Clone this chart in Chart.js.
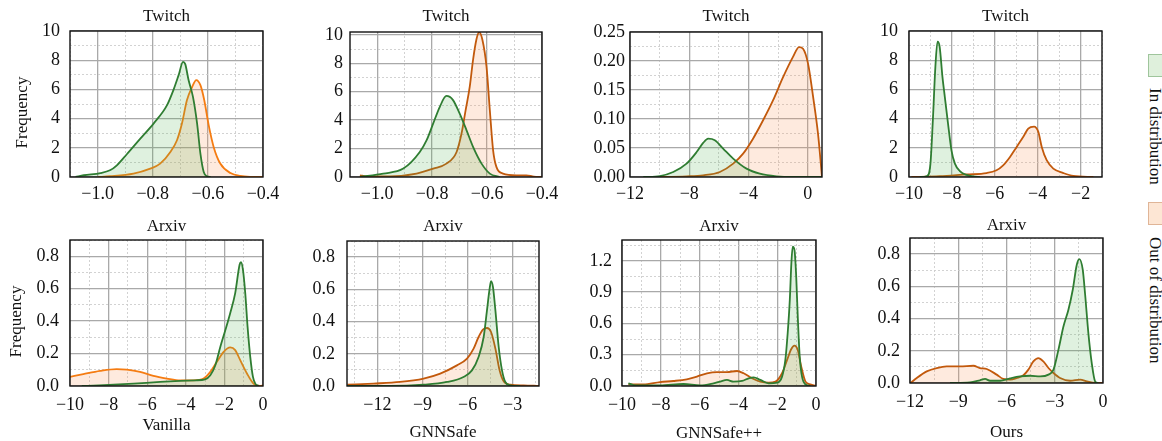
<!DOCTYPE html>
<html>
<head>
<meta charset="utf-8">
<script src="https://cdn.jsdelivr.net/npm/chart.js@4.4.1/dist/chart.umd.min.js"></script>
<style>
  body { margin: 0; width: 1162px; height: 441px; overflow: hidden; background: #fff; position: relative; font-family: "Liberation Serif", serif; }
  canvas { position: absolute; }
  .key { position: absolute; left: 1148px; width: 18px; height: 23px; box-sizing: border-box; }
  .key-text { position: absolute; left: 1145px; writing-mode: vertical-rl; font-size: 17px; line-height: 20px; color: #111; white-space: nowrap; }
</style>
</head>
<body>
<div class="key" id="key-in" style="top:54px; background:#dff0dc; border:1px solid #9fc59c;"></div>
<div class="key-text" id="label-in" style="top:88px;"></div>
<div class="key" id="key-ood" style="top:202px; background:#fde6d4; border:1px solid #e0b597;"></div>
<div class="key-text" id="label-ood" style="top:237px;"></div>
<script>
// ---- data ----
const seriesNames = ['In distribution', 'Out of distribution'];
const datasetNames = ['Twitch', 'Twitch', 'Twitch', 'Twitch', 'Arxiv', 'Arxiv', 'Arxiv', 'Arxiv'];
const methodNames = ['', '', '', '', 'Vanilla', 'GNNSafe', 'GNNSafe++', 'Ours'];
const yAxisNames = ['Frequency', '', '', '', 'Frequency', '', '', ''];

// Twitch / Vanilla
const twVanInX = [-1.08, -1.05, -0.99, -0.955, -0.93, -0.894, -0.845, -0.797, -0.748, -0.724, -0.706, -0.69, -0.682, -0.67, -0.654, -0.639, -0.627, -0.615, -0.603, -0.59];
const twVanInY = [0, 0.12, 0.27, 0.46, 0.8, 1.56, 2.63, 3.66, 4.92, 6.0, 6.98, 7.89, 7.73, 6.64, 5.49, 3.66, 1.6, 0.34, 0.05, 0];
const twVanOodX = [-1.0, -0.955, -0.87, -0.809, -0.773, -0.736, -0.712, -0.694, -0.676, -0.658, -0.642, -0.627, -0.613, -0.597, -0.579, -0.555, -0.518, -0.482, -0.44, -0.4];
const twVanOodY = [0, 0.05, 0.23, 0.57, 0.92, 1.72, 2.52, 3.66, 5.26, 6.13, 6.64, 6.29, 5.26, 3.55, 2.06, 0.92, 0.27, 0.07, 0.01, 0];

// Twitch / GNNSafe
const twSafeInX = [-1.063, -0.978, -0.905, -0.845, -0.82, -0.796, -0.772, -0.748, -0.724, -0.70, -0.675, -0.651, -0.62, -0.59, -0.554];
const twSafeInY = [0, 0.24, 0.59, 1.76, 2.59, 3.77, 4.94, 5.7, 5.41, 4.47, 3.30, 2.12, 0.94, 0.24, 0];
const twSafeOodX = [-1.063, -1.04, -0.954, -0.857, -0.796, -0.748, -0.711, -0.693, -0.678, -0.663, -0.651, -0.639, -0.629, -0.617, -0.602, -0.59, -0.578, -0.566, -0.542, -0.493, -0.457, -0.43, -0.40];
const twSafeOodY = [0.12, 0.05, 0.05, 0.24, 0.59, 0.94, 1.76, 3.06, 4.71, 6.35, 8.24, 9.65, 10.19, 9.65, 7.76, 4.71, 1.88, 0.71, 0.24, 0.12, 0.12, 0.03, 0];

// Twitch / GNNSafe++
const twPlusInX = [-11.1, -9.98, -9.08, -8.18, -7.5, -7.06, -6.72, -6.27, -5.71, -5.03, -4.13, -3.23, -2.11, -0.99, 0.97];
const twPlusInY = [0, 0.0017, 0.0086, 0.023, 0.043, 0.0587, 0.066, 0.0633, 0.049, 0.0317, 0.0144, 0.0058, 0.0012, 0, 0];
const twPlusOodX = [-10.43, -8.18, -7.06, -5.93, -5.03, -4.36, -3.69, -3.01, -2.34, -1.66, -0.99, -0.58, -0.31, 0.03, 0.37, 0.70, 0.97];
const twPlusOodY = [0, 0.0012, 0.0029, 0.0086, 0.023, 0.0402, 0.066, 0.0978, 0.132, 0.172, 0.207, 0.224, 0.221, 0.195, 0.138, 0.0748, 0];

// Twitch / Ours
const twOursInX = [-9.5, -9.16, -9.0, -8.88, -8.77, -8.67, -8.57, -8.44, -8.33, -8.18, -8.02, -7.86, -7.63, -7.32, -6.7];
const twOursInY = [0, 0.07, 0.92, 4.12, 7.55, 9.27, 8.92, 6.86, 5.49, 3.66, 1.83, 0.92, 0.41, 0.14, 0];
const twOursOodX = [-9.89, -8.57, -7.32, -6.38, -5.92, -5.61, -5.29, -4.98, -4.67, -4.44, -4.17, -3.97, -3.81, -3.58, -3.27, -2.80, -2.34, -1.4];
const twOursOodY = [0, 0.05, 0.18, 0.27, 0.46, 0.80, 1.37, 2.06, 2.75, 3.32, 3.45, 3.09, 2.06, 1.15, 0.57, 0.27, 0.07, 0];

// Arxiv / Vanilla
const axVanInX = [-9.39, -8.5, -6.71, -5.33, -4.3, -3.5, -3.0, -2.73, -2.47, -2.21, -1.95, -1.70, -1.44, -1.21, -1.14, -1.04, -0.92, -0.80, -0.66, -0.52, -0.40, -0.23];
const axVanInY = [0, 0.004, 0.015, 0.025, 0.031, 0.035, 0.041, 0.066, 0.128, 0.242, 0.345, 0.449, 0.573, 0.749, 0.763, 0.717, 0.573, 0.366, 0.180, 0.056, 0.015, 0];
const axVanOodX = [-10, -9.31, -8.44, -7.58, -7.06, -6.37, -5.68, -4.98, -4.29, -3.60, -3.08, -2.73, -2.39, -2.04, -1.70, -1.44, -1.18, -0.83, -0.49, -0.14, 0];
const axVanOodY = [0.056, 0.073, 0.093, 0.104, 0.101, 0.087, 0.062, 0.046, 0.035, 0.035, 0.046, 0.087, 0.149, 0.211, 0.238, 0.221, 0.159, 0.077, 0.015, 0, 0.004];

// Arxiv / GNNSafe
const axSafeInX = [-14.0, -11.15, -8.93, -7.37, -6.27, -5.71, -5.27, -4.93, -4.71, -4.55, -4.44, -4.31, -4.15, -3.93, -3.71, -3.49, -3.15, -2.5];
const axSafeInY = [0, 0, 0.008, 0.025, 0.056, 0.097, 0.18, 0.304, 0.469, 0.593, 0.651, 0.614, 0.469, 0.242, 0.097, 0.025, 0.004, 0];
const axSafeOodX = [-14.0, -12.26, -10.49, -8.93, -7.82, -6.71, -6.04, -5.6, -5.27, -4.98, -4.71, -4.44, -4.15, -3.87, -3.6, -3.15, -2.27, -1.25];
const axSafeOodY = [0.008, 0.015, 0.025, 0.046, 0.077, 0.128, 0.17, 0.232, 0.304, 0.35, 0.36, 0.335, 0.232, 0.097, 0.029, 0.008, 0.004, 0];

// Arxiv / GNNSafe++
const axPlusInX = [-9.67, -9.3, -8.04, -6.83, -5.97, -5.28, -4.94, -4.59, -4.25, -3.81, -3.47, -3.21, -2.87, -2.44, -2.0, -1.75, -1.58, -1.46, -1.35, -1.27, -1.20, -1.11, -1.02, -0.94, -0.84, -0.72, -0.54, -0.28];
const axPlusInY = [0.026, 0.006, 0.006, 0.019, 0.006, 0.026, 0.042, 0.058, 0.042, 0.048, 0.074, 0.083, 0.058, 0.026, 0.032, 0.09, 0.25, 0.506, 0.826, 1.177, 1.337, 1.305, 1.049, 0.666, 0.282, 0.09, 0.016, 0];
const axPlusOodX = [-9.67, -8.90, -8.04, -7.35, -6.66, -6.14, -5.62, -5.11, -4.59, -4.07, -3.73, -3.30, -2.87, -2.44, -2.09, -1.75, -1.49, -1.28, -1.11, -0.94, -0.76, -0.54, -0.28, -0.03];
const axPlusOodY = [0.016, 0.016, 0.038, 0.048, 0.064, 0.09, 0.122, 0.134, 0.134, 0.144, 0.122, 0.074, 0.042, 0.032, 0.042, 0.122, 0.25, 0.352, 0.387, 0.345, 0.186, 0.042, 0.016, 0.003];

// Arxiv / Ours
const axOursInX = [-9.51, -8.27, -7.65, -7.33, -7.02, -6.40, -5.78, -5.16, -4.53, -3.91, -3.39, -3.08, -2.77, -2.46, -2.15, -1.88, -1.63, -1.47, -1.26, -1.11, -0.91, -0.70, -0.49, -0.29];
const axOursInY = [0, 0.004, 0.017, 0.025, 0.014, 0.014, 0.029, 0.041, 0.045, 0.041, 0.052, 0.083, 0.207, 0.351, 0.455, 0.579, 0.734, 0.769, 0.703, 0.548, 0.310, 0.124, 0.010, 0];
const axOursOodX = [-11.96, -11.58, -10.96, -10.34, -9.72, -8.89, -8.06, -7.65, -7.23, -6.61, -6.20, -5.78, -5.36, -4.95, -4.64, -4.33, -4.02, -3.71, -3.39, -3.08, -2.67, -2.04, -1.42, -1.0, -0.49, 0];
const axOursOodY = [0, 0.031, 0.072, 0.093, 0.103, 0.103, 0.107, 0.093, 0.087, 0.052, 0.025, 0.021, 0.031, 0.048, 0.083, 0.134, 0.155, 0.134, 0.093, 0.062, 0.031, 0.014, 0.021, 0.010, 0, 0];

// axis ranges and labelled ticks
const xRanges = [[-1.1, -0.4], [-1.099, -0.4], [-12, 0.97], [-10, -1], [-10, 0], [-14.02, -1.25], [-10, 0], [-12, 0]];
const yMaxes = [10, 10.2, 0.25, 10, 0.9, 0.9, 1.4, 0.9];
const xTickVals = [
  [-1.0, -0.8, -0.6, -0.4], [-1.0, -0.8, -0.6, -0.4], [-12, -8, -4, 0], [-10, -8, -6, -4, -2],
  [-10, -8, -6, -4, -2, 0], [-12, -9, -6, -3], [-10, -8, -6, -4, -2, 0], [-12, -9, -6, -3, 0]
];
const yTickVals = [
  [0, 2, 4, 6, 8, 10], [0, 2, 4, 6, 8, 10], [0, 0.05, 0.10, 0.15, 0.20, 0.25], [0, 2, 4, 6, 8, 10],
  [0, 0.2, 0.4, 0.6, 0.8], [0, 0.2, 0.4, 0.6, 0.8], [0, 0.3, 0.6, 0.9, 1.2], [0, 0.2, 0.4, 0.6, 0.8]
];
const xDecimals = [1, 1, 0, 0, 0, 0, 0, 0];
const yDecimals = [0, 0, 2, 0, 1, 1, 1, 1];

const inXs = [twVanInX, twSafeInX, twPlusInX, twOursInX, axVanInX, axSafeInX, axPlusInX, axOursInX];
const inYs = [twVanInY, twSafeInY, twPlusInY, twOursInY, axVanInY, axSafeInY, axPlusInY, axOursInY];
const oodXs = [twVanOodX, twSafeOodX, twPlusOodX, twOursOodX, axVanOodX, axSafeOodX, axPlusOodX, axOursOodX];
const oodYs = [twVanOodY, twSafeOodY, twPlusOodY, twOursOodY, axVanOodY, axSafeOodY, axPlusOodY, axOursOodY];

// ---- layout / style ----
const plotBoxes = [ // plot area in page px: left, top, right, bottom
  [70, 31, 263, 177], [350, 32, 542, 177], [630, 32, 822, 177], [909, 31, 1102, 177],
  [70, 240, 263, 386], [347, 241, 539, 386], [622, 240, 816, 386], [910, 238, 1103, 383]
];
const axisWidths = [58, 50, 50, 50, 64, 54, 54, 54];
const titleCenters = [16, 16, 16, 16, 226, 226, 226, 225];
const xTitleCenters = [0, 0, 0, 0, 426, 433, 434, 433];
const yTickPads = [10, 7, 5, 11, 11, 12, 10, 10];
const xTickPads = [6, 6, 6, 6, 8, 8, 8, 8];
const oodLine = ['#f57c12', '#c2590c', '#c2590c', '#c2590c', '#f57c12', '#c2590c', '#c2590c', '#c2590c'];

const FONT = 'Liberation Serif';
const TEXT = '#111';
const GREEN = '#2f7d32';
const GREEN_FILL = 'rgba(76, 175, 80, 0.18)';
const ORANGE_FILL = 'rgba(250, 150, 90, 0.2)';
const LH = 17 * 1.2;

document.getElementById('label-in').textContent = seriesNames[0];
document.getElementById('label-ood').textContent = seriesNames[1];

function fmt(v, dec) {
  const s = Math.abs(v).toFixed(dec);
  return v < -1e-9 ? '\u2212' + s : s;
}

// majors plus half-step minors inside [min, max]
function gridValues(majors, min, max) {
  const half = (majors[1] - majors[0]) / 2;
  const k0 = Math.ceil((min - majors[0]) / half - 1e-6);
  const k1 = Math.floor((max - majors[0]) / half + 1e-6);
  const vals = [];
  for (let k = k0; k <= k1; k++) vals.push(+(majors[0] + k * half).toFixed(6));
  return vals;
}

function isMajor(majors, v) {
  const half = (majors[1] - majors[0]) / 2;
  const k = Math.round((v - majors[0]) / half);
  return ((k % 2) + 2) % 2 === 0;
}

function axisOptions(majors, min, max, dec, pad, name) {
  return {
    type: 'linear',
    min: min,
    max: max,
    afterBuildTicks: s => { s.ticks = gridValues(majors, min, max).map(v => ({ value: v })); },
    ticks: {
      autoSkip: false,
      maxRotation: 0,
      padding: pad,
      color: TEXT,
      font: { family: FONT, size: 18 },
      callback: v => isMajor(majors, v) ? fmt(v, dec) : ''
    },
    grid: {
      drawTicks: false,
      color: c => (c.tick && !isMajor(majors, c.tick.value)) ? '#cdcdcd' : '#a9a9a9',
      lineWidth: c => (c.tick && !isMajor(majors, c.tick.value)) ? 0.9 : 1.3
    },
    border: {
      display: false,
      dash: c => (c.tick && !isMajor(majors, c.tick.value)) ? [2, 2] : []
    },
    title: {
      display: !!name,
      text: name,
      color: TEXT,
      padding: 0,
      font: { family: FONT, size: 17 }
    }
  };
}

const framePlugin = {
  id: 'frame',
  afterDatasetsDraw(chart) {
    const { ctx, chartArea: a } = chart;
    ctx.save();
    ctx.strokeStyle = '#111';
    ctx.lineWidth = 1.4;
    ctx.strokeRect(a.left, a.top, a.right - a.left, a.bottom - a.top);
    ctx.restore();
  }
};

function points(xs, ys) {
  return xs.map((x, i) => ({ x: x, y: ys[i] }));
}

for (let i = 0; i < 8; i++) {
  const [L, T, R, B] = plotBoxes[i];
  const yW = axisWidths[i];
  const top = Math.round(titleCenters[i] - LH / 2);
  const titleH = T - top;
  const xH = xTitleCenters[i] ? Math.round(xTitleCenters[i] + LH / 2 - B) : 32;
  const rPad = 26;

  const canvas = document.createElement('canvas');
  canvas.width = yW + (R - L) + rPad;
  canvas.height = (B - T) + titleH + xH;
  canvas.style.left = (L - yW) + 'px';
  canvas.style.top = top + 'px';
  document.body.appendChild(canvas);

  const xOpts = axisOptions(xTickVals[i], xRanges[i][0], xRanges[i][1], xDecimals[i], xTickPads[i], methodNames[i]);
  xOpts.afterFit = s => { s.height = xH; s.paddingLeft = 0; s.paddingRight = 0; };
  const yName = yAxisNames[i] ? yAxisNames[i] + '\u2003' : '';
  const yOpts = axisOptions(yTickVals[i], 0, yMaxes[i], yDecimals[i], yTickPads[i], yName);
  yOpts.afterFit = s => { s.width = yW; s.paddingTop = 0; s.paddingBottom = 0; };

  new Chart(canvas, {
    type: 'line',
    data: {
      datasets: [
        {
          label: seriesNames[0],
          data: points(inXs[i], inYs[i]),
          borderColor: GREEN,
          backgroundColor: GREEN_FILL,
          fill: 'origin',
          borderWidth: 1.8,
          pointRadius: 0,
          cubicInterpolationMode: 'monotone'
        },
        {
          label: seriesNames[1],
          data: points(oodXs[i], oodYs[i]),
          borderColor: oodLine[i],
          backgroundColor: ORANGE_FILL,
          fill: 'origin',
          borderWidth: 1.8,
          pointRadius: 0,
          cubicInterpolationMode: 'monotone'
        }
      ]
    },
    options: {
      responsive: false,
      animation: false,
      layout: { padding: { left: 0, top: 0, right: rPad, bottom: 0 } },
      scales: { x: xOpts, y: yOpts },
      plugins: {
        legend: { display: false },
        tooltip: { enabled: false },
        title: {
          display: true,
          text: datasetNames[i],
          fullSize: false,
          color: TEXT,
          font: { family: FONT, size: 17, weight: 'normal' },
          padding: { top: 0, bottom: titleH - LH }
        }
      }
    },
    plugins: [framePlugin]
  });
}
</script>
</body>
</html>
